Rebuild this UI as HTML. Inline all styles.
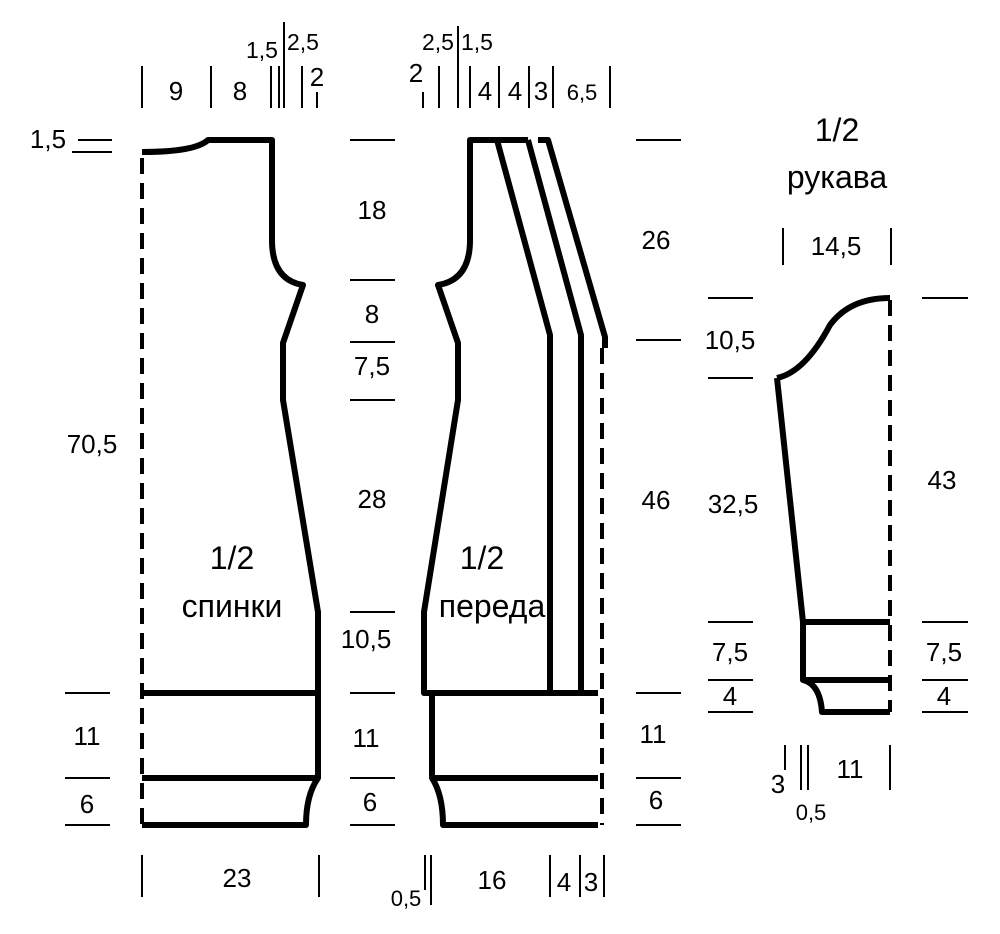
<!DOCTYPE html>
<html><head><meta charset="utf-8"><style>
html,body{margin:0;padding:0;background:#fff}
svg text{font-family:"Liberation Sans",sans-serif;fill:#000}
</style></head><body>
<svg width="1000" height="929" viewBox="0 0 1000 929" xmlns="http://www.w3.org/2000/svg">
<g fill="none" stroke="#000" stroke-width="6" stroke-linejoin="round">
<path d="M142,152 Q195,152 208,140 L272,140 L272,240 Q272,280 303,285 L283,343 L283,400 L318,612 L318,778 Q306,795 306,825 L142,825"/>
<line x1="142" y1="693" x2="318" y2="693"/>
<line x1="142" y1="778" x2="318" y2="778"/>
<path d="M528,140 L470,140 L470,240 Q470,280 438,285 L458,343 L458,400 L424,612 L424,693 L598,693"/>
<path d="M432,693 L432,778 Q443,795 443,825 L598,825"/>
<line x1="432" y1="778" x2="598" y2="778"/>
<path d="M497,140 L550,335 L550,693"/>
<path d="M528,140 L581,335 L581,693"/>
<path d="M538,140 L548,140 L605,337 L605,348"/>
<path d="M777,378 Q805,372 830,325 Q850,298 890,298"/>
<path d="M777,378 L803,622 L803,680 Q820,684 822,712 L890,712"/>
<line x1="803" y1="622" x2="890" y2="622"/>
<line x1="803" y1="680" x2="890" y2="680"/>
</g>
<g stroke="#000" stroke-width="4" stroke-dasharray="16,9" fill="none">
<line x1="142" y1="158" x2="142" y2="825"/>
<line x1="602" y1="348" x2="602" y2="825"/>
<line x1="890" y1="300" x2="890" y2="712"/>
</g>
<g stroke="#000" stroke-width="2" fill="none">
<path d="M350,140h45M350,280h45M350,342h45M350,400h45M350,612h45M350,693h45M350,778h45M350,825h45"/>
<path d="M65,693h45M65,778h45M65,825h45M78,140h34M72,152h40"/>
<path d="M636,140h45M636,340h45M636,693h45M636,778h45M636,825h45"/>
<path d="M708,298h45M708,378h45M708,622h45M708,680h45M708,712h45"/>
<path d="M922,298h46M922,622h46M922,680h46M922,712h46"/>
<path d="M142,66v42M211,66v42M271,66v42M279,66v42M302,66v42M317,92v16M284,22v86"/>
<path d="M423,92v16M439,66v42M458,26v82M470,66v42M499,66v42M529,66v42M553,66v42M610,66v42"/>
<path d="M142,855v42M319,855v42M425,855v35M431,855v50M550,855v42M580,855v42M604,855v42"/>
<path d="M783,228v37M891,228v37M785,745v25M801,745v45M808,745v45M890,745v45"/>
</g>
<g font-size="26" text-anchor="middle">
<text x="176" y="100">9</text><text x="240" y="100">8</text>
<text x="262" y="58" font-size="23">1,5</text><text x="303" y="50" font-size="23">2,5</text>
<text x="317" y="86">2</text>
<text x="416" y="82">2</text>
<text x="438" y="50" font-size="23">2,5</text><text x="477" y="50" font-size="23">1,5</text>
<text x="485" y="100">4</text><text x="515" y="100">4</text><text x="541" y="100">3</text><text x="582" y="100" font-size="22">6,5</text>
<text x="48" y="148">1,5</text>
<text x="372" y="219">18</text><text x="372" y="323">8</text><text x="372" y="375">7,5</text>
<text x="372" y="508">28</text><text x="366" y="648">10,5</text><text x="366" y="747">11</text><text x="370" y="811">6</text>
<text x="92" y="453">70,5</text><text x="87" y="745">11</text><text x="87" y="813">6</text>
<text x="656" y="249">26</text><text x="656" y="509">46</text><text x="653" y="743">11</text><text x="656" y="809">6</text>
<text x="237" y="887">23</text><text x="492" y="889">16</text><text x="564" y="891">4</text><text x="591" y="891">3</text>
<text x="406" y="906" font-size="22">0,5</text>
<text x="730" y="349">10,5</text><text x="733" y="513">32,5</text><text x="730" y="661">7,5</text><text x="730" y="705">4</text>
<text x="942" y="489">43</text><text x="944" y="661">7,5</text><text x="944" y="705">4</text>
<text x="836" y="255">14,5</text>
<text x="778" y="793">3</text><text x="811" y="820" font-size="22">0,5</text><text x="850" y="778">11</text>
</g>
<g font-size="32" text-anchor="middle">
<text x="232" y="569">1/2</text><text x="232" y="617">спинки</text>
<text x="482" y="569">1/2</text><text x="492" y="617">переда</text>
<text x="837" y="141">1/2</text><text x="837" y="188">рукава</text>
</g>
</svg>
</body></html>
